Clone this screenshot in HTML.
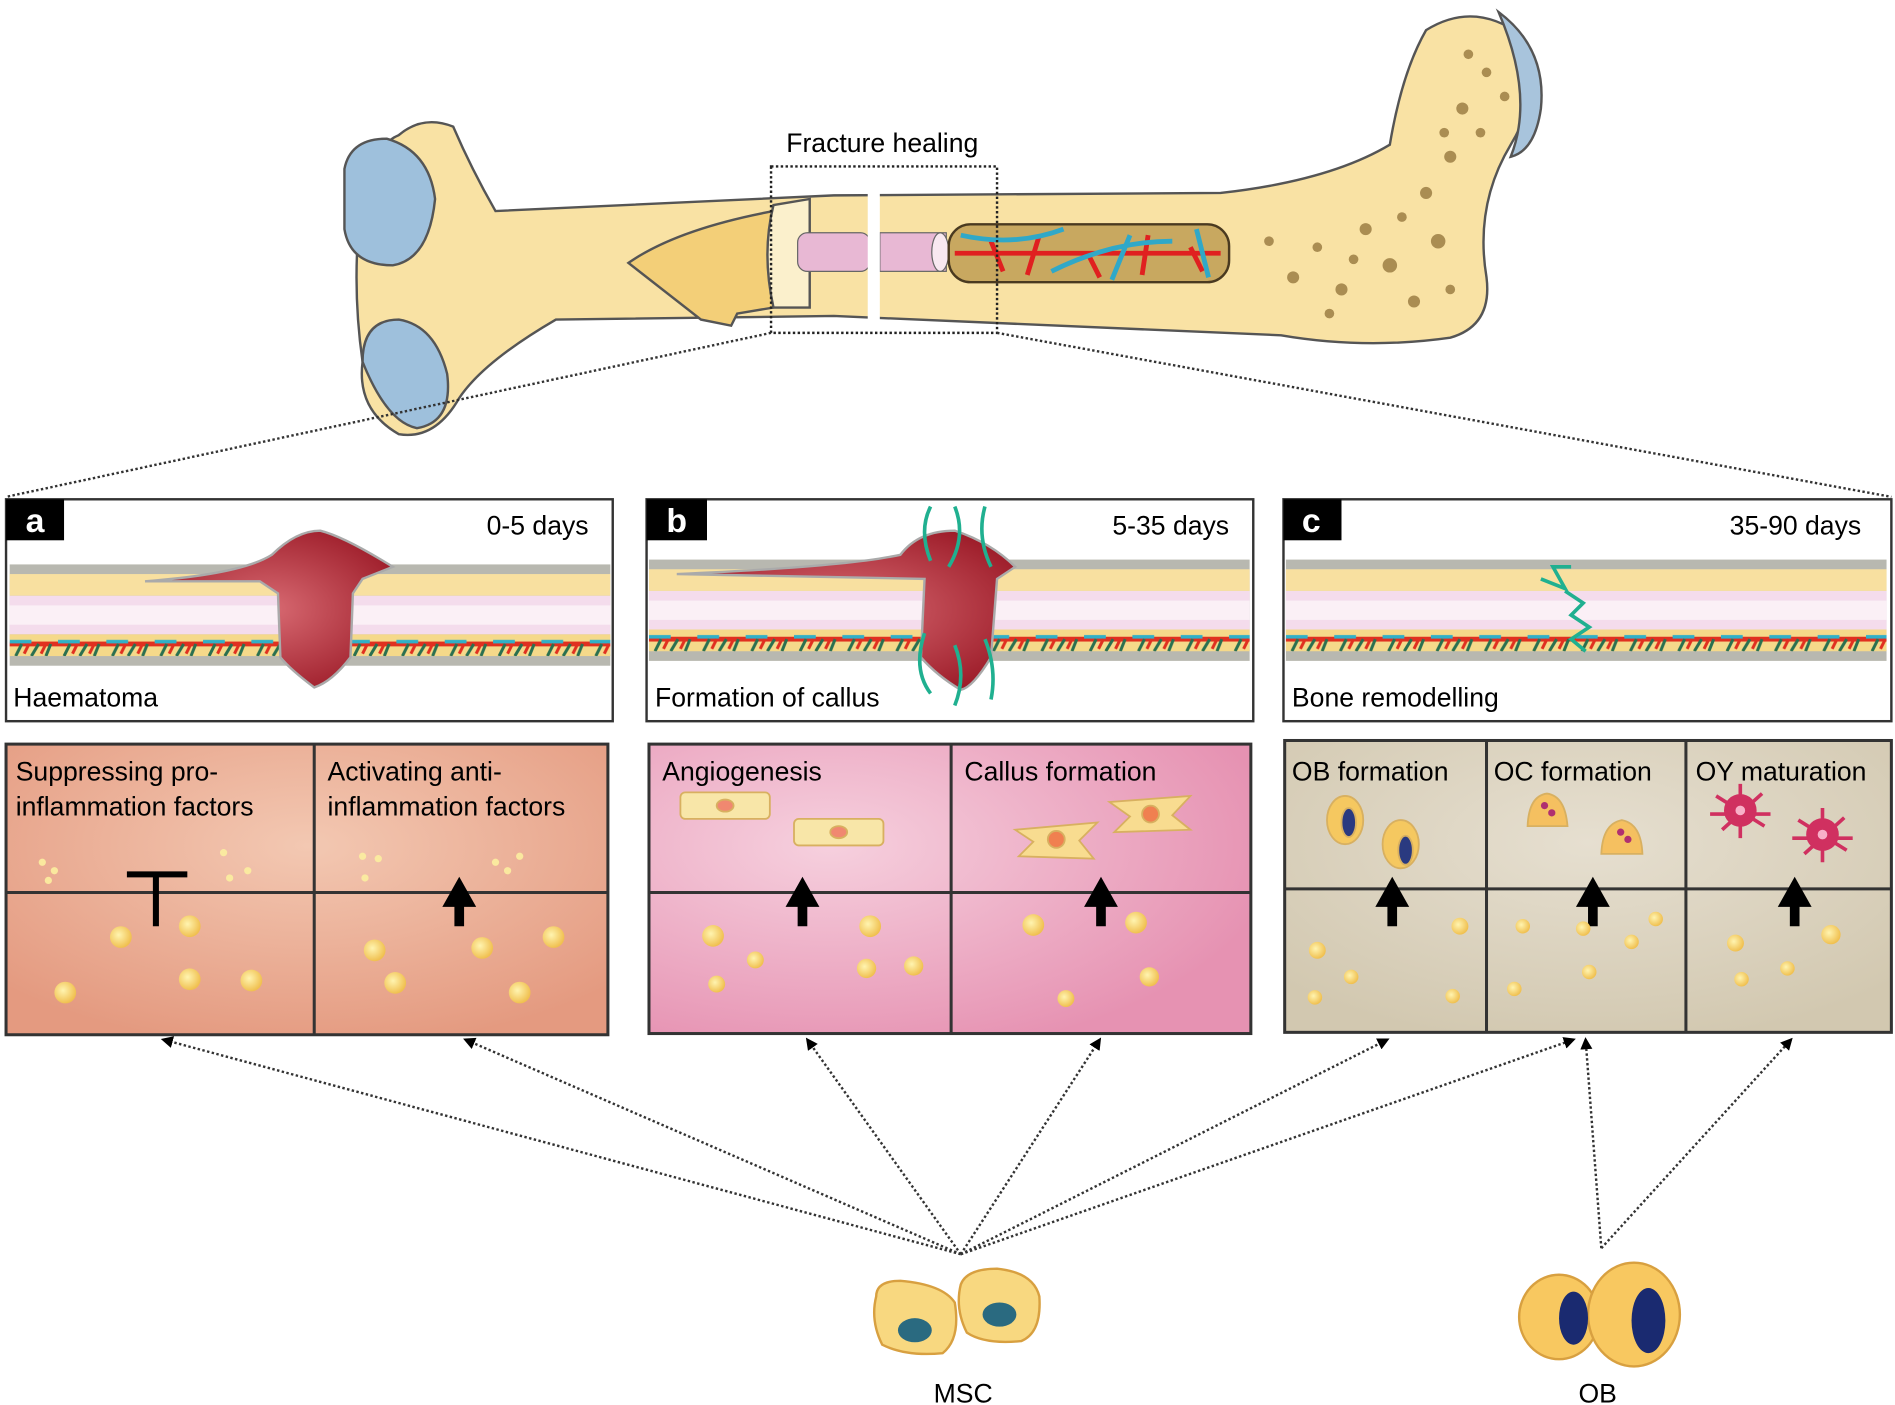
<!DOCTYPE html>
<html><head><meta charset="utf-8"><style>
html,body{margin:0;padding:0;background:#fff;width:1895px;height:1405px;overflow:hidden}
svg{display:block}
text{font-family:"Liberation Sans",Arial,sans-serif;fill:#000}
</style></head><body>
<svg width="1895" height="1405" viewBox="0 0 1568 1165" preserveAspectRatio="none" xmlns="http://www.w3.org/2000/svg">
<defs>
<radialGradient id="ga" cx="50%" cy="35%" r="70%"><stop offset="0" stop-color="#f3c8b2"/><stop offset="1" stop-color="#e49a80"/></radialGradient>
<radialGradient id="gb" cx="30%" cy="35%" r="75%"><stop offset="0" stop-color="#f6d0de"/><stop offset="1" stop-color="#e692b2"/></radialGradient>
<radialGradient id="gc" cx="50%" cy="35%" r="70%"><stop offset="0" stop-color="#e6dfd0"/><stop offset="1" stop-color="#d2c8b0"/></radialGradient>
<radialGradient id="blood" cx="50%" cy="50%" r="60%"><stop offset="0" stop-color="#d86a72"/><stop offset="1" stop-color="#9c1b28"/></radialGradient>
<radialGradient id="dot" cx="40%" cy="40%" r="60%"><stop offset="0" stop-color="#fff4b0"/><stop offset="1" stop-color="#f0c050"/></radialGradient>
<pattern id="ves" width="40" height="20" patternUnits="userSpaceOnUse">
<rect width="40" height="20" fill="#f5d98a"/>
<path d="M0 6 H40" stroke="#e03020" stroke-width="4"/>
<path d="M0 4 H18" stroke="#30b0c8" stroke-width="3"/>
<path d="M10 6 L5 16 M24 6 L18 16 M34 6 L30 16" stroke="#2a7050" stroke-width="2.5"/>
<path d="M16 6 L12 14 M30 6 L26 14" stroke="#e03020" stroke-width="2.5"/>
</pattern>
<marker id="ah" markerWidth="10" markerHeight="10" refX="8" refY="5" orient="auto" markerUnits="userSpaceOnUse"><path d="M0 0 L10 5 L0 10 z" fill="#000"/></marker>
<g id="strip">
<rect x="0" y="0" width="497" height="84" fill="#b8b8b0"/>
<rect x="0" y="8" width="497" height="18" fill="#f8e0a0"/>
<rect x="0" y="26" width="497" height="32" fill="#f4dcec"/>
<rect x="0" y="34" width="497" height="16" fill="#fbf0f6"/>
<rect x="0" y="58" width="497" height="18" fill="url(#ves)"/>
</g>
</defs>

<!-- Bone -->
<g stroke="#555" stroke-width="2">
<path d="M330 112 Q350 95 375 105 Q390 140 410 175 L690 162 L1010 160 Q1100 150 1150 120 Q1160 60 1180 25 Q1220 0 1260 30 Q1280 70 1250 120 Q1220 170 1230 230 Q1235 270 1200 280 Q1130 290 1060 278 L690 262 L460 265 Q400 300 380 330 Q360 365 330 360 Q295 340 300 300 Q290 230 300 160 Q310 120 330 112 Z" fill="#f9e2a4"/>
<path d="M300 300 Q320 350 345 355 Q375 350 370 310 Q360 270 330 265 Q300 265 300 300Z" fill="#9ec0dc"/>
<path d="M285 140 Q290 115 320 115 Q355 125 360 165 Q355 215 325 220 Q290 220 285 190Z" fill="#9ec0dc"/>
<path d="M1240 10 Q1280 40 1275 90 Q1270 125 1250 130 Q1270 80 1240 10Z" fill="#a8c4dc"/>
</g>
<path d="M520 218 Q560 190 640 175 L640 255 L610 260 L605 270 L580 265 Z" fill="#f3cf78" stroke="#555" stroke-width="2"/>
<path d="M640 170 L670 165 L670 255 L640 255 Q630 210 640 170Z" fill="#fbf0cc" stroke="#555" stroke-width="2"/>
<rect x="660" y="193" width="60" height="32" rx="8" fill="#e8b8d4" stroke="#666"/>
<rect x="728" y="193" width="55" height="32" fill="#e8b8d4" stroke="#666"/>
<ellipse cx="778" cy="209" rx="7" ry="16" fill="#f8e8f0" stroke="#666"/>
<rect x="785" y="186" width="232" height="48" rx="18" fill="#c8a860" stroke="#4a3a20" stroke-width="2"/>
<path d="M790 210 H1010 M820 200 L830 225 M860 195 L850 228 M900 210 L910 230 M950 195 L945 228 M985 205 L995 225" stroke="#e02020" stroke-width="4" fill="none"/>
<path d="M795 195 Q840 205 880 190 M870 225 Q920 200 970 200 M920 232 L935 195 M990 190 L1000 230" stroke="#30a8c8" stroke-width="4" fill="none"/>
<rect x="718" y="150" width="10" height="120" fill="#fff"/>
<g fill="#8a6a30" opacity="0.7">
<circle cx="1050" cy="200" r="4"/><circle cx="1070" cy="230" r="5"/><circle cx="1090" cy="205" r="4"/><circle cx="1110" cy="240" r="5"/><circle cx="1130" cy="190" r="5"/><circle cx="1150" cy="220" r="6"/><circle cx="1170" cy="250" r="5"/><circle cx="1190" cy="200" r="6"/><circle cx="1180" cy="160" r="5"/><circle cx="1200" cy="130" r="5"/><circle cx="1210" cy="90" r="5"/><circle cx="1230" cy="60" r="4"/><circle cx="1215" cy="45" r="4"/><circle cx="1245" cy="80" r="4"/><circle cx="1160" cy="180" r="4"/><circle cx="1200" cy="240" r="4"/><circle cx="1120" cy="215" r="4"/><circle cx="1100" cy="260" r="4"/><circle cx="1195" cy="110" r="4"/><circle cx="1225" cy="110" r="4"/>
</g>
<rect x="638" y="138" width="187" height="138" fill="none" stroke="#222" stroke-width="2" stroke-dasharray="2 2"/>
<text x="730" y="126" font-size="22" text-anchor="middle">Fracture healing</text>
<path d="M638 276 L5 412 M825 276 L1565 412" stroke="#333" stroke-width="2" stroke-dasharray="2 2"/>

<!-- Panel tops -->
<g stroke="#333" stroke-width="2" fill="#fff">
<rect x="5" y="414" width="502" height="184"/>
<rect x="535" y="414" width="502" height="184"/>
<rect x="1062" y="414" width="503" height="184"/>
</g>
<use href="#strip" transform="translate(8,468)"/>
<use href="#strip" transform="translate(537,464)"/>
<use href="#strip" transform="translate(1064,464)"/>
<path d="M120 482 Q200 476 225 460 Q245 440 265 440 Q285 445 325 470 L300 480 L292 492 L290 545 Q275 565 260 570 Q240 555 232 545 L230 492 L215 482 Z" fill="url(#blood)" stroke="#aaa" stroke-width="2"/>
<path d="M560 476 Q700 470 745 460 Q760 440 790 440 Q820 450 840 470 L825 480 L820 545 Q805 570 795 572 Q775 560 762 545 L765 480 Z" fill="url(#blood)" stroke="#aaa" stroke-width="2"/>
<g stroke="#20b090" stroke-width="3" fill="none">
<path d="M770 420 Q760 440 770 465 M790 420 Q800 445 785 470 M815 420 Q808 445 820 470 M765 525 Q755 555 770 575 M790 535 Q800 560 790 585 M815 530 Q825 555 820 580"/>
<path d="M1275 480 L1295 488 L1285 470 L1300 470 M1295 490 L1310 500 L1300 510 L1315 520 L1300 530 L1312 540"/>
</g>
<g>
<rect x="5" y="414" width="48" height="34" fill="#000"/><text x="29" y="441" font-size="28" font-weight="bold" fill="#fff" text-anchor="middle" style="fill:#fff">a</text>
<rect x="535" y="414" width="50" height="34" fill="#000"/><text x="560" y="441" font-size="28" font-weight="bold" text-anchor="middle" style="fill:#fff">b</text>
<rect x="1062" y="414" width="48" height="34" fill="#000"/><text x="1085" y="441" font-size="28" font-weight="bold" text-anchor="middle" style="fill:#fff">c</text>
</g>
<text x="487" y="443" font-size="22" text-anchor="end">0-5 days</text>
<text x="1017" y="443" font-size="22" text-anchor="end">5-35 days</text>
<text x="1540" y="443" font-size="22" text-anchor="end">35-90 days</text>
<text x="11" y="586" font-size="22">Haematoma</text>
<text x="542" y="586" font-size="22">Formation of callus</text>
<text x="1069" y="586" font-size="22">Bone remodelling</text>

<!-- lower boxes -->
<g stroke="#333" stroke-width="2.5">
<rect x="5" y="617" width="498" height="241" fill="url(#ga)"/>
<path d="M260 617 V858 M5 740 H503" fill="none"/>
<rect x="537" y="617" width="498" height="240" fill="url(#gb)"/>
<path d="M787 617 V857 M537 740 H1035" fill="none"/>
<rect x="1063" y="614" width="502" height="242" fill="url(#gc)"/>
<path d="M1230 614 V856 M1395 614 V856 M1063 737 H1565" fill="none"/>
</g>
<g font-size="22">
<text x="13" y="647">Suppressing pro-</text><text x="13" y="676">inflammation factors</text>
<text x="271" y="647">Activating anti-</text><text x="271" y="676">inflammation factors</text>
<text x="548" y="647">Angiogenesis</text><text x="798" y="647">Callus formation</text>
<text x="1069" y="647">OB formation</text><text x="1236" y="647">OC formation</text><text x="1403" y="647">OY maturation</text>
</g>
<!-- symbols -->
<path d="M105 725 H155 M129 725 V768" stroke="#000" stroke-width="5"/>
<g fill="#000">
<path d="M380 727 L394 752 H384 V768 H376 V752 H366Z"/>
<path d="M664 727 L678 752 H668 V768 H660 V752 H650Z"/>
<path d="M911 727 L925 752 H915 V768 H907 V752 H897Z"/>
<path d="M1152 727 L1166 752 H1156 V768 H1148 V752 H1138Z"/>
<path d="M1318 727 L1332 752 H1322 V768 H1314 V752 H1304Z"/>
<path d="M1485 727 L1499 752 H1489 V768 H1481 V752 H1471Z"/>
</g>
<g fill="url(#dot)">
<circle cx="100" cy="777" r="9"/><circle cx="157" cy="768" r="9"/><circle cx="157" cy="812" r="9"/><circle cx="208" cy="813" r="9"/><circle cx="54" cy="823" r="9"/>
<circle cx="310" cy="788" r="9"/><circle cx="399" cy="786" r="9"/><circle cx="458" cy="777" r="9"/><circle cx="327" cy="815" r="9"/><circle cx="430" cy="823" r="9"/>
<circle cx="590" cy="776" r="9"/><circle cx="720" cy="768" r="9"/><circle cx="625" cy="796" r="7"/><circle cx="717" cy="803" r="8"/><circle cx="756" cy="801" r="8"/><circle cx="593" cy="816" r="7"/>
<circle cx="855" cy="767" r="9"/><circle cx="940" cy="765" r="9"/><circle cx="951" cy="810" r="8"/><circle cx="882" cy="828" r="7"/>
<circle cx="1090" cy="788" r="7"/><circle cx="1208" cy="768" r="7"/><circle cx="1118" cy="810" r="6"/><circle cx="1088" cy="827" r="6"/><circle cx="1202" cy="826" r="6"/>
<circle cx="1260" cy="768" r="6"/><circle cx="1310" cy="770" r="6"/><circle cx="1350" cy="781" r="6"/><circle cx="1370" cy="762" r="6"/><circle cx="1315" cy="806" r="6"/><circle cx="1253" cy="820" r="6"/>
<circle cx="1436" cy="782" r="7"/><circle cx="1515" cy="775" r="8"/><circle cx="1479" cy="803" r="6"/><circle cx="1441" cy="812" r="6"/>
</g>
<g fill="#fcefa0" opacity="0.9">
<circle cx="35" cy="715" r="3"/><circle cx="45" cy="722" r="3"/><circle cx="40" cy="730" r="3"/><circle cx="185" cy="707" r="3"/><circle cx="205" cy="722" r="3"/><circle cx="190" cy="728" r="3"/>
<circle cx="300" cy="710" r="3"/><circle cx="313" cy="712" r="3"/><circle cx="302" cy="728" r="3"/><circle cx="410" cy="715" r="3"/><circle cx="430" cy="710" r="3"/><circle cx="420" cy="722" r="3"/>
</g>
<!-- cells -->
<g stroke="#d8b060" stroke-width="1.5">
<rect x="563" y="657" width="74" height="22" rx="4" fill="#f8e6a8"/><ellipse cx="600" cy="668" rx="7" ry="5" fill="#f08870"/>
<rect x="657" y="679" width="74" height="22" rx="4" fill="#f8e6a8"/><ellipse cx="694" cy="690" rx="7" ry="5" fill="#f08870"/>
<path d="M840 688 L908 682 L893 697 L905 712 L843 710 L855 698Z" fill="#f8dc90"/><circle cx="874" cy="696" r="7" fill="#f08050"/>
<path d="M918 665 L985 660 L970 676 L985 688 L922 690 L935 677Z" fill="#f8dc90"/><circle cx="952" cy="675" r="7" fill="#f08050"/>
<ellipse cx="1113" cy="680" rx="15" ry="20" fill="#f5c860"/><ellipse cx="1116" cy="682" rx="6" ry="12" fill="#2a3a80"/>
<ellipse cx="1159" cy="700" rx="15" ry="20" fill="#f5c860"/><ellipse cx="1163" cy="705" rx="6" ry="12" fill="#2a3a80"/>
<path d="M1264 685 Q1265 660 1280 658 Q1295 660 1297 685Z" fill="#f5c060"/>
<path d="M1325 708 Q1326 683 1342 680 Q1358 683 1359 708Z" fill="#f5c060"/>
</g>
<g fill="#b03070"><circle cx="1278" cy="668" r="3"/><circle cx="1284" cy="674" r="3"/><circle cx="1341" cy="690" r="3"/><circle cx="1347" cy="696" r="3"/></g>
<g fill="#d03060" stroke="#d03060" stroke-width="3">
<circle cx="1440" cy="672" r="12"/><path d="M1420 660 L1460 685 M1425 688 L1458 658 M1440 650 V695 M1415 675 H1465" fill="none"/>
<circle cx="1508" cy="692" r="12"/><path d="M1488 680 L1528 705 M1493 708 L1526 678 M1508 670 V715 M1483 695 H1533" fill="none"/>
</g>
<g fill="#f8b0c8"><circle cx="1440" cy="672" r="4"/><circle cx="1508" cy="692" r="4"/></g>

<!-- arrows -->
<g stroke="#333" stroke-width="2" stroke-dasharray="2 2" fill="none" marker-end="url(#ah)">
<path d="M795 1040 L135 862"/><path d="M795 1040 L385 862"/><path d="M795 1040 L668 862"/><path d="M795 1040 L910 862"/><path d="M795 1040 L1148 862"/><path d="M795 1040 L1302 862"/>
<path d="M1325 1035 L1312 862"/><path d="M1325 1035 L1482 862"/>
</g>
<!-- MSC -->
<g stroke="#d8a040" stroke-width="2">
<path d="M725 1075 Q725 1062 745 1062 Q780 1065 790 1080 Q795 1110 780 1122 Q750 1125 730 1115 Q720 1095 725 1075Z" fill="#f8d880"/>
<path d="M795 1065 Q800 1052 825 1052 Q855 1055 860 1075 Q862 1105 845 1112 Q815 1115 800 1105 Q790 1085 795 1065Z" fill="#f8d880"/>
</g>
<ellipse cx="757" cy="1103" rx="14" ry="10" fill="#2a6a80"/><ellipse cx="827" cy="1090" rx="14" ry="10" fill="#2a6a80"/>
<text x="797" y="1163" font-size="22" text-anchor="middle">MSC</text>
<!-- OB -->
<g stroke="#d8a040" stroke-width="2">
<ellipse cx="1290" cy="1092" rx="33" ry="35" fill="#f8c860"/>
<ellipse cx="1352" cy="1090" rx="38" ry="43" fill="#f8c860"/>
</g>
<ellipse cx="1302" cy="1093" rx="12" ry="22" fill="#1a2a70"/><ellipse cx="1364" cy="1095" rx="14" ry="27" fill="#1a2a70"/>
<text x="1322" y="1163" font-size="22" text-anchor="middle">OB</text>
</svg>
</body></html>
